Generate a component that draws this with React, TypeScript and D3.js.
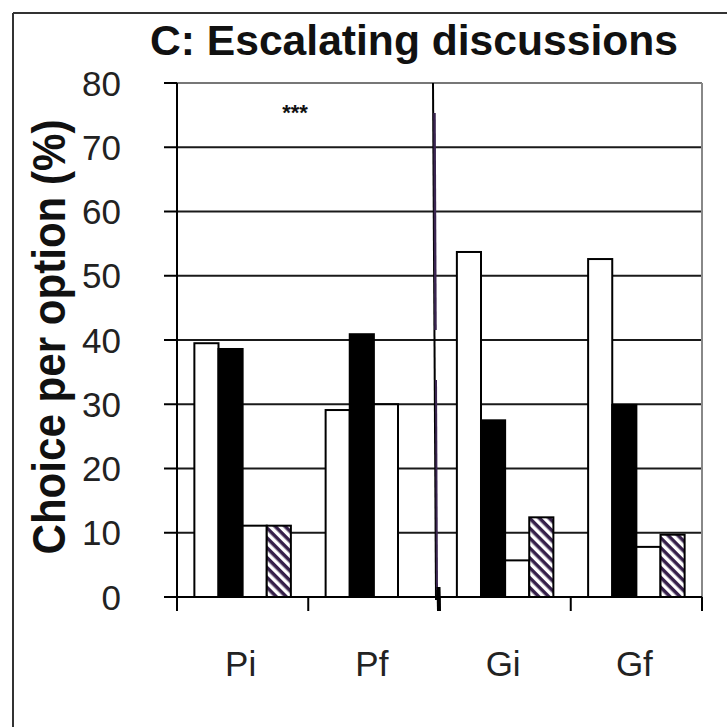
import React from "react";
import * as d3 from "d3";

const categories = ["Pi", "Pf", "Gi", "Gf"];
const seriesKeys = ["s1", "s2", "s3", "s4"];
const s1Values = [39.5, 29.1, 53.7, 52.6];
const s2Values = [38.6, 40.9, 27.5, 29.9];
const s3Values = [11.1, 30.0, 5.7, 7.8];
const s4Values = [11.1, 0, 12.4, 9.7];
const yTicks = [0, 10, 20, 30, 40, 50, 60, 70, 80];
const titleText = "C: Escalating discussions";
const yTitleText = "Choice per option (%)";
const sigText = "***";

const seriesValues = [s1Values, s2Values, s3Values, s4Values];

export default function App() {
  const W = 727, H = 727;
  const left = 177, right = 702, top = 83, bottom = 597;

  const y = d3.scaleLinear().domain([0, 80]).range([bottom, top]);
  const x0 = d3.scaleBand<string>().domain(categories).range([left, right]).padding(0);
  const x1 = d3
    .scaleBand<string>()
    .domain(seriesKeys)
    .range([0, x0.bandwidth()])
    .paddingInner(0)
    .paddingOuter(0.72);

  const fills = ["#ffffff", "#000000", "#ffffff", "url(#hatch)"];
  const font = "'Liberation Sans', Arial, Helvetica, sans-serif";

  const groupEdges = [...categories.map((c) => x0(c) as number), right];

  return (
    <svg
      width={W}
      height={H}
      style={{ position: "fixed", left: 0, top: 0, background: "#fff" }}
      fontFamily={font}
    >
      <defs>
        <pattern id="hatch" patternUnits="userSpaceOnUse" width="7" height="7" patternTransform="rotate(45)">
          <rect width="7" height="7" fill="#ffffff" />
          <rect width="7" height="3.5" fill="#36204a" />
        </pattern>
      </defs>
      <rect x={0} y={0} width={W} height={H} fill="#fff" />
      {/* outer frame */}
      <line x1={13} y1={13} x2={W} y2={13} stroke="#333" strokeWidth={2} />
      <line x1={13} y1={13} x2={13} y2={H} stroke="#333" strokeWidth={2} />

      {/* title */}
      <text
        x={150}
        y={55}
        fontSize={42}
        fontWeight="bold"
        textLength={528}
        lengthAdjust="spacingAndGlyphs"
        fill="#111"
      >
        {titleText}
      </text>

      {/* gridlines */}
      {yTicks.slice(1, -1).map((t) => (
        <line key={"g" + t} x1={left} x2={right} y1={y(t)} y2={y(t)} stroke="#1a1a1a" strokeWidth={2} />
      ))}
      {/* plot border top/right */}
      <line x1={left} x2={right} y1={y(80)} y2={y(80)} stroke="#777" strokeWidth={2} />
      <line x1={right} x2={right} y1={y(80)} y2={bottom} stroke="#888" strokeWidth={2} />

      {/* bars */}
      {categories.map((c, ci) => (
        <g key={c} transform={`translate(${x0(c)},0)`}>
          {seriesKeys.map((k, si) => {
            const v = seriesValues[si][ci];
            if (v <= 0) return null;
            return (
              <rect
                key={k}
                x={x1(k)}
                y={y(v)}
                width={x1.bandwidth()}
                height={bottom - y(v)}
                fill={fills[si]}
                stroke="#000"
                strokeWidth={2}
              />
            );
          })}
        </g>
      ))}

      {/* separator line artifact */}
      <line x1={433} y1={top} x2={436} y2={bottom + 3} stroke="#000" strokeWidth={2} />
      <line x1={434.5} y1={113} x2={435.5} y2={330} stroke="#3a2550" strokeWidth={2.5} />
      <line x1={436} y1={380} x2={437} y2={590} stroke="#3a2550" strokeWidth={2} />
      <line x1={438.5} y1={587} x2={439} y2={611} stroke="#000" strokeWidth={4} />

      {/* y axis */}
      <line x1={left} x2={left} y1={top} y2={bottom} stroke="#000" strokeWidth={2} />
      {yTicks.map((t) => (
        <g key={"t" + t}>
          <line x1={left - 13} x2={left} y1={y(t)} y2={y(t)} stroke="#000" strokeWidth={2} />
          <text
            x={121}
            y={y(t)}
            dy="0.36em"
            textAnchor="end"
            fontSize={35}
            fill="#222"
          >
            {t}
          </text>
        </g>
      ))}

      {/* x axis */}
      <line x1={left} x2={right} y1={bottom} y2={bottom} stroke="#000" strokeWidth={2} />
      {groupEdges.map((gx, i) => (
        <line key={"xt" + i} x1={gx} x2={gx} y1={bottom} y2={bottom + 14} stroke="#000" strokeWidth={2} />
      ))}
      {categories.map((c) => (
        <text
          key={"xl" + c}
          x={(x0(c) as number) + x0.bandwidth() / 2 - 2}
          y={676}
          textAnchor="middle"
          fontSize={35}
          fill="#222"
        >
          {c}
        </text>
      ))}

      {/* significance */}
      <text x={295} y={120} textAnchor="middle" fontSize={22} fontWeight="bold" fill="#111">
        {sigText}
      </text>

      {/* y title */}
      <text
        transform={`translate(65,337) rotate(-90)`}
        textAnchor="middle"
        fontSize={46}
        fontWeight="bold"
        textLength={435}
        lengthAdjust="spacingAndGlyphs"
        fill="#111"
      >
        {yTitleText}
      </text>
    </svg>
  );
}
